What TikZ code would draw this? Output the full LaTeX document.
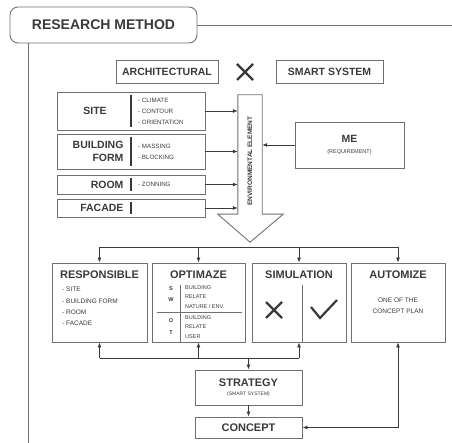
\documentclass[tikz,border=0pt]{standalone}
\usepackage{fontspec}
\setmainfont{Liberation Sans}
\usetikzlibrary{arrows.meta,positioning,calc}
\definecolor{linegrey}{HTML}{707070}
\definecolor{inkgrey}{HTML}{3A3A3A}

\begin{document}
\begin{tikzpicture}[
  x=1pt, y=-1pt,
  font=\fontsize{7}{8.5}\selectfont,
  text=inkgrey,
  box/.style ={draw=linegrey, line width=0.9pt, inner sep=0pt},
  tag/.style ={font=\bfseries\fontsize{10.5}{13.5}\selectfont},
  head/.style={font=\bfseries\fontsize{11}{13}\selectfont},
  list/.style={align=left, inner sep=0pt, font=\fontsize{6.2}{11}\selectfont},
  swot/.style={font=\bfseries\fontsize{5.5}{6}\selectfont},
  wire/.style={draw=inkgrey, line width=0.8pt},
  >={Latex[length=5pt,width=4pt]}
]
\useasboundingbox (0,0) rectangle (452,443);

% frame
\node[box, rounded corners=8pt, minimum width=187, minimum height=36,
  font=\bfseries\fontsize{14}{16}\selectfont] (title) at (103.5,25) {RESEARCH METHOD};
\coordinate (frameright) at (452,25);
\coordinate (framebottom) at (28,443);
\draw[box] (title.east) -- (frameright);
\draw[box] (title.south -| framebottom) -- (framebottom);

% architectural x smart system
\node[box, tag, minimum width=102, minimum height=23] (arch)  at (167,71.5)   {ARCHITECTURAL};
\node[box, tag, minimum width=107, minimum height=23] (smart) at (329.5,71.5) {SMART SYSTEM};
\coordinate (times) at (245,72);
\draw[inkgrey, line width=2.2pt] ($(times)+(-8,-8)$) -- ($(times)+(8,8)$)
  ($(times)+(-8,8)$) -- ($(times)+(8,-8)$);

% aspects
\node[box, minimum width=148, minimum height=38] (site)   at (131,111)   {};
\node[box, minimum width=148, minimum height=35] (form)   at (131,151.5) {};
\node[box, minimum width=148, minimum height=19] (room)   at (131,184.5) {};
\node[box, minimum width=148, minimum height=18] (facade) at (131,208)   {};
\foreach \b in {site,form,room,facade}
  \draw[inkgrey, line width=1.6pt] ([yshift=-3pt]\b.north) -- ([yshift=3pt]\b.south);

\node[tag] (sitetag) at (95,111) {SITE};
\node[tag, anchor=east, align=right] (formtag) at (127,151.5) {BUILDING\\FORM};
\node[tag, anchor=east] (roomtag)   at (127,184.5) {ROOM};
\node[tag, anchor=east] (facadetag) at (127,208)   {FACADE};
\node[list, anchor=west] (siteitems) at (138,111)   {- CLIMATE\\- CONTOUR\\- ORIENTATION};
\node[list, anchor=west] (formitems) at (138,151.5) {- MASSING\\- BLOCKING};
\node[list, anchor=west] (roomitems) at (138,184.5) {- ZONNING};

% environmental element arrow
\node[minimum width=24, minimum height=119, inner sep=0pt] (env) at (250,154.5) {};
\draw[box] (env.south west) -- (env.north west) -- (env.north east) -- (env.south east)
  -- ++(21,0) -- ($(env.south)+(0,28)$) -- ($(env.south west)+(-20,0)$) -- cycle;
\node[rotate=90, font=\bfseries\fontsize{6.5}{7}\selectfont] (envtext) at (250,161) {ENVIRONMENTAL ELEMENT};

\foreach \b in {site,form,room,facade}
  \draw[wire,->] (\b.east) -- (\b.east -| env.west);

\node[box, minimum width=109, minimum height=46, align=center] (me) at (349.5,145)
  {{\bfseries\fontsize{10.5}{12}\selectfont ME}\\[2pt]{\fontsize{5.5}{7}\selectfont (REQUIREMENT)}};
\draw[wire,->] (me.west) -- (me.west -| env.east);

% outcome boxes
\node[box, minimum width=95, minimum height=79] (resp) at (99.5,302.5) {};
\node[box, minimum width=93, minimum height=79] (opt)  at (198.5,302.5) {};
\node[box, minimum width=94, minimum height=79] (sim)  at (299,302.5) {};
\node[box, minimum width=94, minimum height=79] (auto) at (398,302.5) {};

\node[head] (resphead) at ($(resp.north)+(0,12)$) {RESPONSIBLE};
\node[head] (opthead)  at ($(opt.north)+(0,12)$)  {OPTIMAZE};
\node[head] (simhead)  at ($(sim.north)+(0,12)$)  {SIMULATION};
\node[head] (autohead) at ($(auto.north)+(0,12)$) {AUTOMIZE};

\node[list, anchor=north west, font=\fontsize{6.5}{11.3}\selectfont] (respitems) at (62,287)
  {- SITE\\- BUILDING FORM\\- ROOM\\- FACADE};

% swot
\draw[linegrey, line width=0.8pt] ($(opt.south)+(-18.5,0)$) -- ++(0,-57);
\draw[linegrey, line width=0.8pt] ($(opt.west)+(5,9.5)$) -- ($(opt.east)+(-3,9.5)$);
\node[swot] (swots) at (171,289) {S};
\node[swot] (swotw) at (171,300) {W};
\node[swot] (swoto) at (171,321) {O};
\node[swot] (swott) at (171,333) {T};
\node[list, anchor=west, font=\fontsize{5.5}{9.3}\selectfont] (nature) at (185,297) {BUILDING\\RELATE\\NATURE / ENV.};
\node[list, anchor=west, font=\fontsize{5.5}{9.3}\selectfont] (user)   at (185,327) {BUILDING\\RELATE\\USER};

% simulation marks
\draw[linegrey, line width=0.8pt] ($(sim.south)+(3,0)$) -- ++(0,-57);
\coordinate (fail) at (274,310);
\draw[inkgrey, line width=2.2pt] ($(fail)+(-8,-8)$) -- ($(fail)+(8,8)$)
  ($(fail)+(-8,8)$) -- ($(fail)+(8,-8)$);
\coordinate (pass) at (320,318);
\draw[inkgrey, line width=2.2pt] ($(pass)+(-9,-11)$) -- (pass) -- ($(pass)+(17,-18)$);

\node[align=center, font=\fontsize{6.5}{11}\selectfont] (autotext) at (398,305.5) {ONE OF THE\\CONCEPT PLAN};

% strategy and concept
\node[box, minimum width=107, minimum height=35, align=center] (strat) at (248.5,387.5)
  {{\bfseries\fontsize{11}{13}\selectfont STRATEGY}\\[1pt]{\fontsize{5}{6}\selectfont (SMART SYSTEM)}};
\node[box, head, minimum width=107, minimum height=21] (concept) at (248.5,427.5) {CONCEPT};

% connectors
\coordinate (fork) at (250,247);
\draw[wire] (resp.north |- fork) -- (auto.north |- fork);
\foreach \b in {resp,opt,sim,auto}
  \draw[wire,->] (\b.north |- fork) -- (\b.north);

\coordinate (join) at (248.5,358);
\draw[wire] (resp.south |- join) -- (sim.south |- join);
\foreach \b in {resp,opt,sim}
  \draw[wire,->] (\b.south |- join) -- (\b.south);
\draw[wire,->] (join) -- (strat.north);
\draw[wire,->] (strat.south) -- (concept.north);
\draw[wire,<->] (auto.south) |- (concept.east);
\end{tikzpicture}
\end{document}
